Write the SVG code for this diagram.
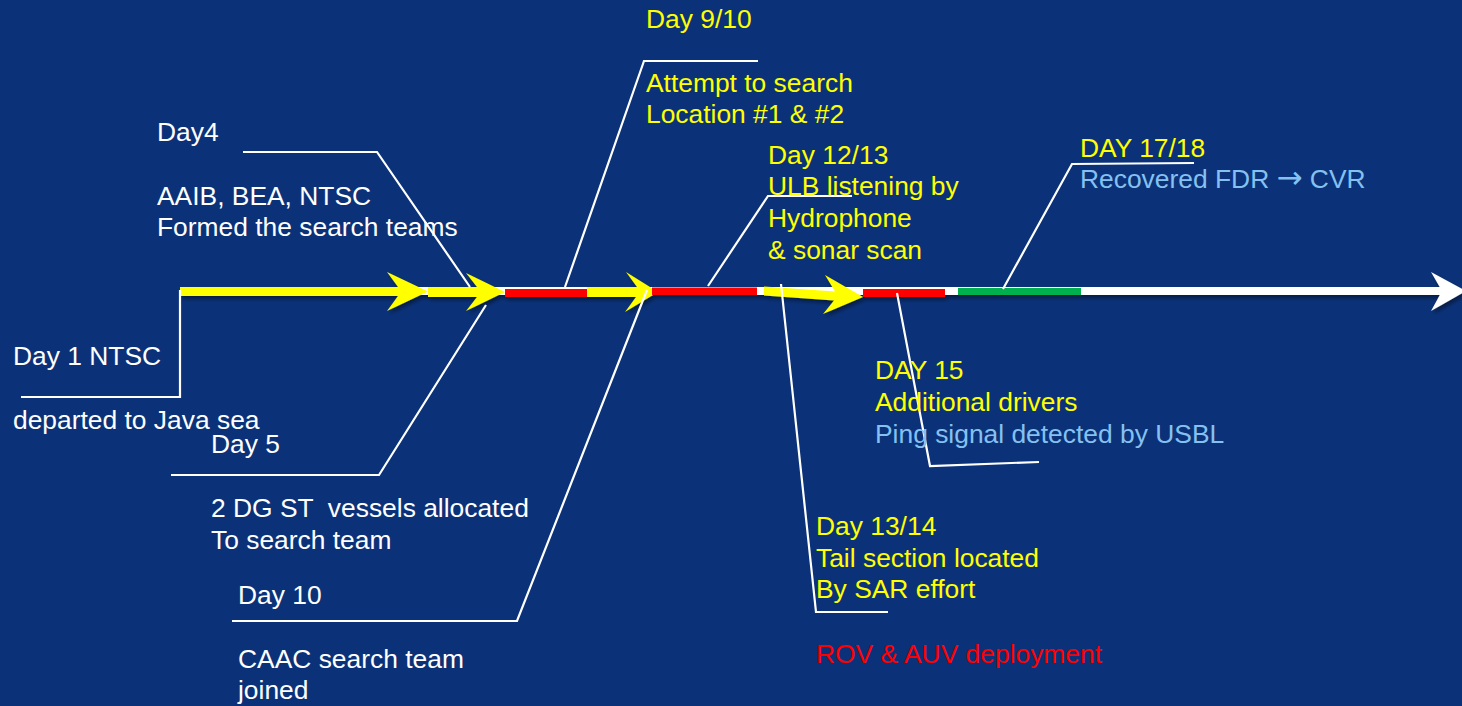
<svg xmlns="http://www.w3.org/2000/svg" width="1462" height="706" viewBox="0 0 1462 706">
<defs>
<filter id="sh" x="-5%" y="-50%" width="110%" height="250%">
<feDropShadow dx="2" dy="3" stdDeviation="2" flood-color="#000" flood-opacity="0.45"/>
</filter>
</defs>
<style>
text{font-family:"Liberation Sans",Arial,sans-serif;font-size:26.4px}
.w{fill:#ffffff}
.y{fill:#ffff00}
.b{fill:#85c1f0}
.r{fill:#ff0000}
.c{fill:none;stroke:#ffffff;stroke-width:2.2}
.arr{font-family:"DejaVu Sans",sans-serif;font-size:31px}
</style>
<rect width="1462" height="706" fill="#0b3279"/>
<g id="timeline" filter="url(#sh)">
<rect x="180" y="287" width="1265" height="8" fill="#ffffff"/>
<polygon points="1431,272 1466,291 1431,311 1442,291" fill="#ffffff"/>
<polygon points="180,287 398,287 387,272 428,291.5 387,311 398,296 180,296" fill="#ffff00"/>
<polygon points="428,287 477,287 466,273 505,292 466,311 477,297 428,297" fill="#ffff00"/>
<rect x="505" y="289" width="82" height="8" fill="#ff0000"/>
<polygon points="587,287 637,287 626,272 658,292 625,312 636,297 587,297" fill="#ffff00"/>
<rect x="652" y="287.5" width="105" height="7.5" fill="#ff0000"/>
<polygon points="764,286.5 835,291.5 825,275 863,297 823,314 834,300.5 764,295.5" fill="#ffff00"/>
<rect x="863" y="289" width="82" height="8" fill="#ff0000"/>
<rect x="958" y="288" width="123" height="7" fill="#00b050"/>
</g>
<g id="connectors">
<polyline class="c" points="180,290 180,397 21,397"/>
<polyline class="c" points="243,152 377,152 470,287"/>
<polyline class="c" points="486,305 379,475 171,475"/>
<polyline class="c" points="565,287 644,61 758,61"/>
<polyline class="c" points="647,290 517,621 232,621"/>
<polyline class="c" points="708,286 768,196 852,196"/>
<polyline class="c" points="781,284 816,612 888,612"/>
<polyline class="c" points="897,293 930,466 1039,462"/>
<polyline class="c" points="1003,289 1072,164 1194,163"/>
</g>
<g id="day1">
<text class="w" x="13" y="365">Day 1 NTSC</text>
<text class="w" x="13" y="429">departed to Java sea</text>
</g>
<g id="day4">
<text class="w" x="157" y="141">Day4</text>
<text class="w" x="157" y="205">AAIB, BEA, NTSC</text>
<text class="w" x="157" y="236">Formed the search teams</text>
</g>
<g id="day5">
<text class="w" x="211" y="453">Day 5</text>
<text class="w" x="211" y="517" xml:space="preserve">2 DG ST  vessels allocated</text>
<text class="w" x="211" y="549">To search team</text>
</g>
<g id="day9-10">
<text class="y" x="646" y="28">Day 9/10</text>
<text class="y" x="646" y="92">Attempt to search</text>
<text class="y" x="646" y="123">Location #1 &amp; #2</text>
</g>
<g id="day10">
<text class="w" x="238" y="604">Day 10</text>
<text class="w" x="238" y="668">CAAC search team</text>
<text class="w" x="238" y="699">joined</text>
</g>
<g id="day12-13">
<text class="y" x="768" y="164">Day 12/13</text>
<text class="y" x="768" y="195">ULB listening by</text>
<text class="y" x="768" y="227">Hydrophone</text>
<text class="y" x="768" y="259">&amp; sonar scan</text>
</g>
<g id="day13-14">
<text class="y" x="816" y="535">Day 13/14</text>
<text class="y" x="816" y="567">Tail section located</text>
<text class="y" x="816" y="598">By SAR effort</text>
<text class="r" x="816" y="663">ROV &amp; AUV deployment</text>
</g>
<g id="day15">
<text class="y" x="875" y="379">DAY 15</text>
<text class="y" x="875" y="411">Additional drivers</text>
<text class="b" x="875" y="443">Ping signal detected by USBL</text>
</g>
<g id="day17-18">
<text class="y" x="1080" y="157">DAY 17/18</text>
<text class="b" x="1080" y="188" xml:space="preserve">Recovered FDR <tspan class="arr">→</tspan> CVR</text>
</g>
</svg>
